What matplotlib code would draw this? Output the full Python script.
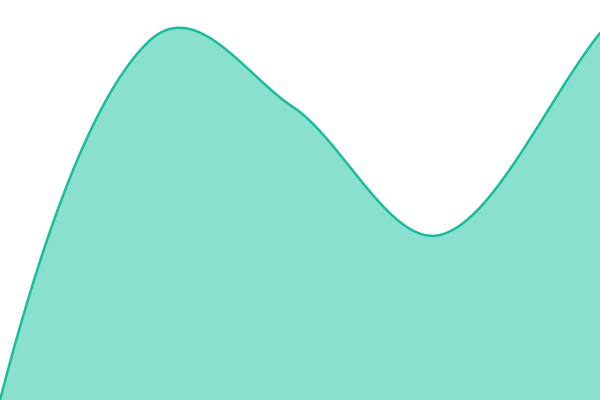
import numpy as np
import matplotlib
matplotlib.use('Agg')
import matplotlib.pyplot as plt

# points (x position, value with 0 at the bottom edge)
xs = [0, 147, 293, 440, 600]
values = [0, 357, 293, 165, 367]


def smooth(x, y, n=80):
    # catmull-rom style hermite curve through the points
    x = np.asarray(x, float)
    y = np.asarray(y, float)
    m = np.zeros(len(x))
    m[1:-1] = (y[2:] - y[:-2]) / (x[2:] - x[:-2])
    m[0] = 2 * (y[1] - y[0]) / (x[1] - x[0]) - m[1]
    m[-1] = (y[-1] - y[-2]) / (x[-1] - x[-2])
    out_x, out_y = [], []
    for i in range(len(x) - 1):
        h = x[i + 1] - x[i]
        t = np.linspace(0, 1, n, endpoint=False)
        h00 = 2 * t ** 3 - 3 * t ** 2 + 1
        h10 = t ** 3 - 2 * t ** 2 + t
        h01 = -2 * t ** 3 + 3 * t ** 2
        h11 = t ** 3 - t ** 2
        out_x.append(x[i] + t * h)
        out_y.append(h00 * y[i] + h10 * h * m[i] + h01 * y[i + 1] + h11 * h * m[i + 1])
    out_x.append([x[-1]])
    out_y.append([y[-1]])
    return np.concatenate(out_x), np.concatenate(out_y)


fig = plt.figure(figsize=(6, 4), dpi=100)
ax = fig.add_axes([0, 0, 1, 1])
sx, sy = smooth(xs, values)
ax.fill_between(sx, 0, sy, color='#8ae0cf', linewidth=0)
ax.plot(sx, sy, color='#1abc9c', linewidth=1.8, solid_capstyle='round')
ax.set_xlim(0, 600)
ax.set_ylim(0, 400)
ax.axis('off')
fig.savefig('out.png', dpi=100)
